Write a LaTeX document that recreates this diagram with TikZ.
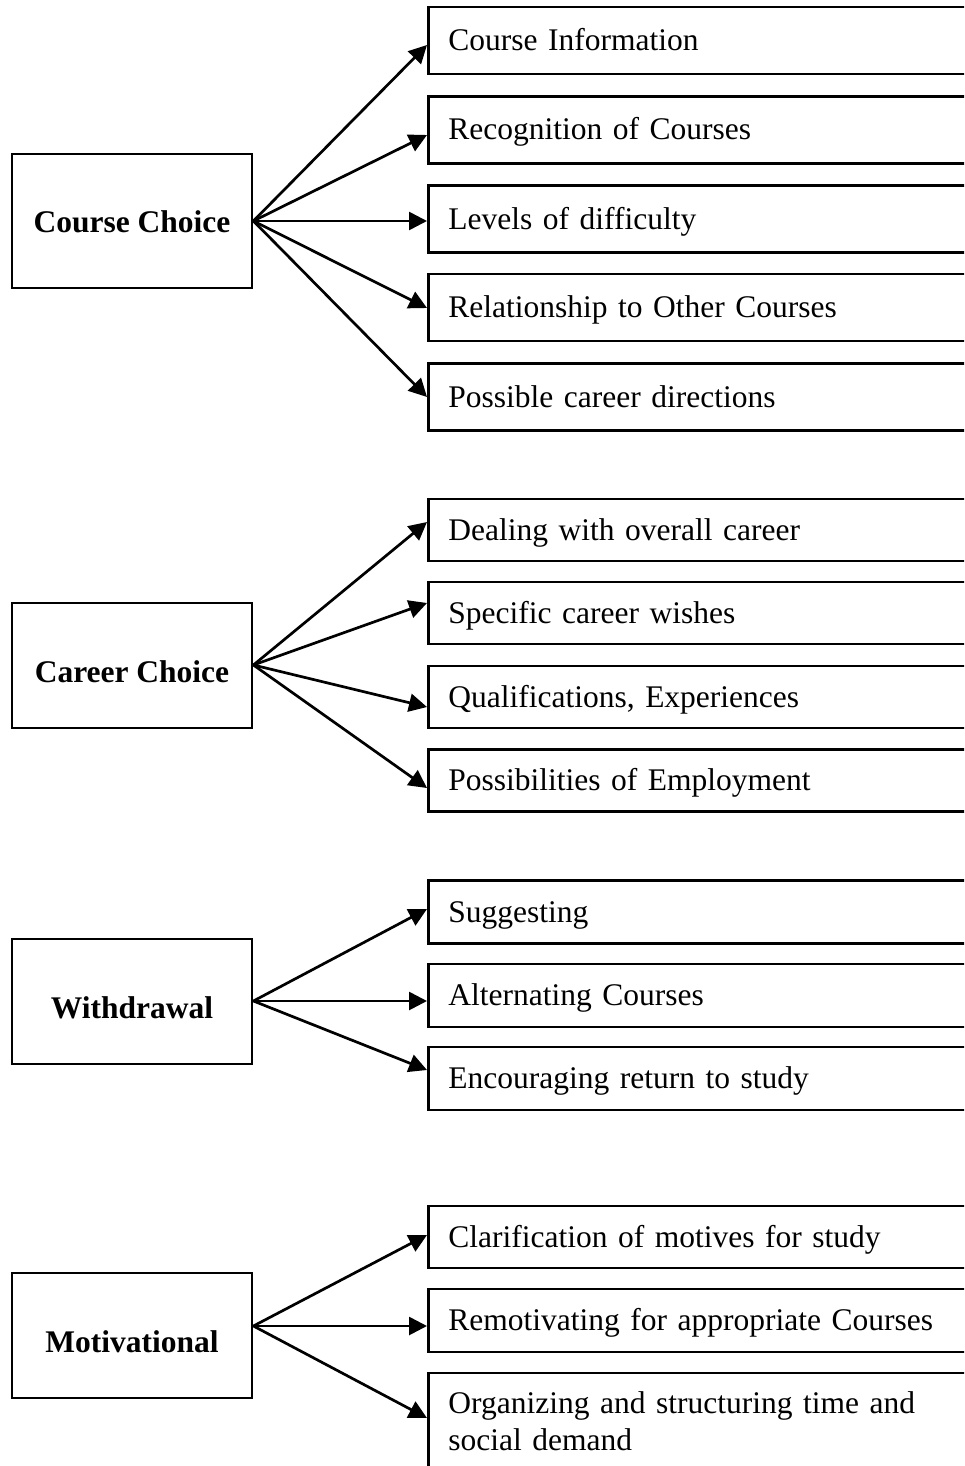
\documentclass[tikz,border=0pt]{standalone}
\usepackage{fontspec}
\setmainfont{Liberation Serif}
\usetikzlibrary{arrows.meta}
\begin{document}
\begin{tikzpicture}[x=1pt,y=-1pt,
  every node/.style={font=\fontsize{31.5}{37}\selectfont},
  head/.style={draw, line width=2.8pt, minimum width=240pt, minimum height=125pt,
    inner sep=0pt, font=\fontsize{31.5}{37}\selectfont\bfseries,
    text height=33pt, text depth=0pt},
  item/.style={draw, line width=2.8pt, anchor=west, text width=560pt, align=left,
    inner xsep=20pt, inner ysep=0pt, minimum height=#1,
    text height=24pt, text depth=4pt},
  link/.style={line width=2.7pt, -{Triangle[length=18pt,width=18pt]}}]

\path[use as bounding box] (0,0) rectangle (964,1466);
\clip (0,0) rectangle (964,1466);
\fill[white] (0,0) rectangle (964,1466);

% Course choice group
\node[head, minimum height=134pt, text height=22pt] (cc) at (132,221) {Course Choice};
\node[item=67pt] (a1) at (427,40.5) {Course Information};
\node[item=67pt] (a2) at (427,130) {Recognition of Courses};
\node[item=67pt] (a3) at (427,219) {Levels of difficulty};
\node[item=67pt] (a4) at (427,307.5) {Relationship to Other Courses};
\node[item=67pt] (a5) at (427,397) {Possible career directions};

\coordinate (o1) at (cc.east |- 0,221);
\draw[link] (o1) -- (a1.west |- 0,45);
\draw[link] (o1) -- (a2.west |- 0,135);
\draw[link] (o1) -- (a3.west |- 0,221);
\draw[link] (o1) -- (a4.west |- 0,308);
\draw[link] (o1) -- (a5.west |- 0,397);

% Career choice group
\node[head] (ca) at (132,665.5) {Career Choice};
\node[item=62pt] (b1) at (427,530) {Dealing with overall career};
\node[item=62pt] (b2) at (427,613) {Specific career wishes};
\node[item=62pt] (b3) at (427,697) {Qualifications, Experiences};
\node[item=62pt] (b4) at (427,780.5) {Possibilities of Employment};

\coordinate (o2) at (ca.east |- 0,665);
\draw[link] (o2) -- (b1.west |- 0,522);
\draw[link] (o2) -- (b2.west |- 0,603);
\draw[link] (o2) -- (b3.west |- 0,707);
\draw[link] (o2) -- (b4.west |- 0,788);

% Withdrawal group
\node[head] (wd) at (132,1001.5) {Withdrawal};
\node[item=63pt] (c1) at (427,912) {Suggesting};
\node[item=63pt] (c2) at (427,995.5) {Alternating Courses};
\node[item=63pt] (c3) at (427,1078.5) {Encouraging return to study};

\coordinate (o3) at (wd.east |- 0,1001);
\draw[link] (o3) -- (c1.west |- 0,909);
\draw[link] (o3) -- (c2.west |- 0,1001);
\draw[link] (o3) -- (c3.west |- 0,1070);

% Motivational group
\node[head] (mo) at (132,1335.5) {Motivational};
\node[item=62pt] (d1) at (427,1237) {Clarification of motives for study};
\node[item=63pt] (d2) at (427,1320.5) {Remotivating for appropriate Courses};
\node[item=62pt, anchor=base west, inner ysep=16pt, text depth=50pt] (d3) at (427,1413)
  {Organizing and structuring time and\\social demand};

\coordinate (o4) at (mo.east |- 0,1326);
\draw[link] (o4) -- (d1.west |- 0,1235);
\draw[link] (o4) -- (d2.west |- 0,1326);
\draw[link] (o4) -- (d3.west |- 0,1418);
\end{tikzpicture}
\end{document}
